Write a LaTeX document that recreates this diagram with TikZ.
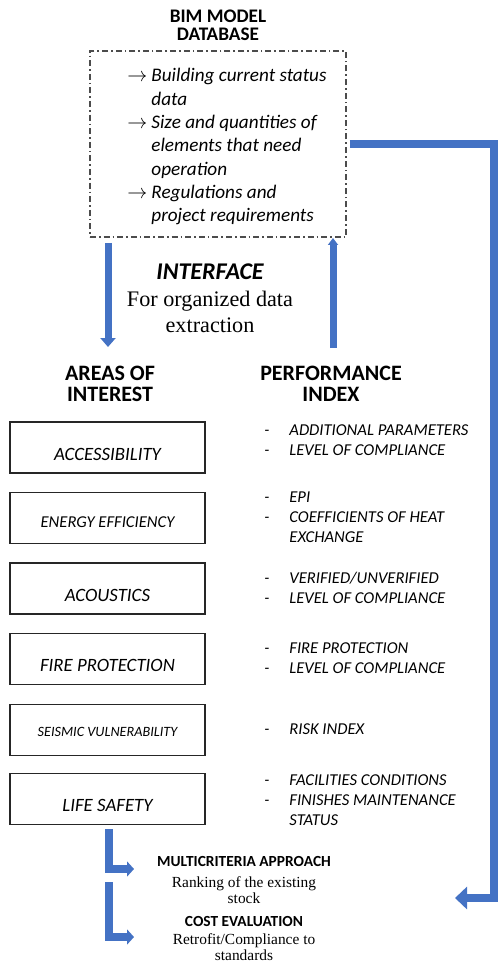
\documentclass[tikz,border=0pt]{standalone}
\usepackage{fontspec}
\setmainfont{Carlito}
\newfontfamily\timesfont{Liberation Serif}
\usetikzlibrary{arrows.meta}
\definecolor{barblue}{HTML}{4472C4}
\newcommand{\pitem}{\makebox[12.5pt][l]{-}}
\newcommand{\pcont}{\hspace*{12.5pt}}
\newcommand{\ditem}{\makebox[12pt][l]{$\rightarrow$}}
\newcommand{\dcont}{\hspace*{12pt}}
\tikzset{
  area/.style={draw=black!85, line width=0.9pt, minimum width=97.5pt, minimum height=25.5pt,
    inner sep=0pt, text depth=0pt, text height=12.5pt, font=\fontsize{9.4}{11}\selectfont\itshape},
  perf/.style={anchor=north west, inner sep=0pt, align=left, font=\fontsize{8.3}{10}\selectfont\itshape},
  head/.style={align=center, inner sep=0pt, font=\fontsize{11}{10.5}\selectfont\bfseries},
  note/.style={anchor=north, align=center, inner sep=0pt, font=\timesfont\fontsize{7.7}{6.6}\selectfont},
  flow/.style={draw=barblue, line width=3.5pt, line join=miter},
}
\begin{document}
\begin{tikzpicture}[x=0.5pt, y=-0.5pt]
  \useasboundingbox (0,0) rectangle (499,962);
  \coordinate (dn1) at (108,243);
  \coordinate (dn2) at (108,347);
  \coordinate (up1) at (333,348);
  \coordinate (up2) at (333,238);
  \coordinate (rcorner) at (494,898);
  \coordinate (rend) at (455,898);
  \coordinate (l1a) at (109,829);
  \coordinate (l1b) at (134,869);
  \coordinate (l2a) at (109,882);
  \coordinate (l2b) at (134,937);

  \node[head, font=\fontsize{9.6}{9.2}\selectfont\bfseries] (bim) at (218,25) {BIM MODEL\\DATABASE};
  \node[draw=black!70, line width=0.7pt, dash pattern=on 3pt off 1.5pt on 0.8pt off 1.5pt,
    minimum width=128pt, minimum height=93pt] (dbbox) at (218,144) {};
  \node[anchor=north west, inner sep=0pt, align=left, font=\fontsize{9.6}{11.67}\selectfont\itshape]
    (dbitems) at (127,68) {\ditem Building current status\\ \dcont data\\
    \ditem Size and quantities of\\ \dcont elements that need\\ \dcont operation\\
    \ditem Regulations and\\ \dcont project requirements};
  \coordinate (rstart) at ([xshift=1.5pt]dbbox.east);

  \node[font=\fontsize{12}{12}\selectfont\bfseries\itshape] (iface) at (210,272) {INTERFACE};
  \node[anchor=north, align=center, inner sep=0pt, font=\timesfont\fontsize{11.1}{13}\selectfont]
    (ifacetxt) at (210,290.5) {For organized data\\extraction};
  \node[head] (areas) at (110,384) {AREAS OF\\INTEREST};
  \node[head] (pindex) at (331,384) {PERFORMANCE\\INDEX};

  \node[area] (access) at (107.5,447.5) {ACCESSIBILITY};
  \node[area, text height=9.2pt, font=\fontsize{8.3}{10}\selectfont\itshape] (energy) at (107.5,518) {ENERGY EFFICIENCY};
  \node[area] (acoustics) at (107.5,588.5) {ACOUSTICS};
  \node[area] (fire) at (107.5,659) {FIRE PROTECTION};
  \node[area, text height=6.4pt, font=\fontsize{7.1}{9}\selectfont\itshape] (seismic) at (107.5,730) {SEISMIC VULNERABILITY};
  \node[area] (life) at (107.5,799) {LIFE SAFETY};

  \node[perf] (perf1) at (264,424.5) {\pitem ADDITIONAL PARAMETERS\\ \pitem LEVEL OF COMPLIANCE};
  \node[perf] (perf2) at (264,491.5) {\pitem EPI\\ \pitem COEFFICIENTS OF HEAT\\ \pcont EXCHANGE};
  \node[perf] (perf3) at (264,571.5) {\pitem VERIFIED/UNVERIFIED\\ \pitem LEVEL OF COMPLIANCE};
  \node[perf] (perf4) at (264,642.5) {\pitem FIRE PROTECTION\\ \pitem LEVEL OF COMPLIANCE};
  \node[perf] (perf5) at (264,723.5) {\pitem RISK INDEX};
  \node[perf] (perf6) at (264,774.5) {\pitem FACILITIES CONDITIONS\\ \pitem FINISHES MAINTENANCE\\ \pcont STATUS};

  \node[font=\fontsize{7.7}{8}\selectfont\bfseries] (multi) at (244,861) {MULTICRITERIA APPROACH};
  \node[note] (rank) at (244,876) {Ranking of the existing\\stock};
  \node[font=\fontsize{7.7}{8}\selectfont\bfseries] (cost) at (244,921) {COST EVALUATION};
  \node[note] (retro) at (244,933) {Retrofit/Compliance to\\standards};

  \draw[flow, -{Triangle[width=7.5pt,length=4.5pt]}] (dn1) -- (dn2);
  \draw[flow, -{Triangle[width=5pt,length=3.5pt]}] (up1) -- (up2);
  \draw[flow, line width=4pt, -{Triangle[width=11pt,length=6pt]}] (rstart) -| (rcorner) -- (rend);
  \draw[flow, line width=4pt, -{Triangle[width=7.5pt,length=3.5pt]}] (l1a) |- (l1b);
  \draw[flow, line width=4pt, -{Triangle[width=7.5pt,length=3.5pt]}] (l2a) |- (l2b);
\end{tikzpicture}
\end{document}
